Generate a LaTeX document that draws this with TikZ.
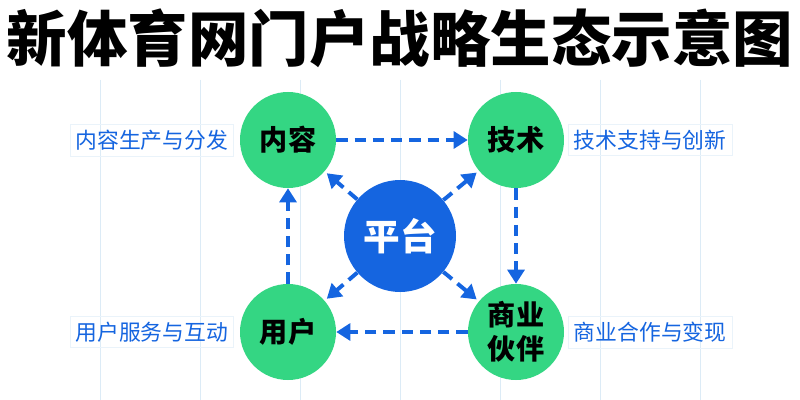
\documentclass[tikz,border=0pt]{standalone}
\usepackage{fontspec}
\setmainfont{Noto Sans CJK SC}
\usetikzlibrary{arrows.meta}
\definecolor{hubblue}{HTML}{1565E0}
\definecolor{nodegreen}{HTML}{34D683}
\definecolor{gridblue}{HTML}{DCEBF6}
\tikzset{
    corner/.style = {circle, fill = nodegreen, minimum size = 96*0.025cm, inner sep = 0pt,
        font = \fontsize{20}{24}\selectfont\bfseries, align = center},
    hub/.style = {circle, fill = hubblue, minimum size = 112*0.025cm, inner sep = 0pt,
        text = white, font = \fontsize{26}{28}\selectfont\bfseries},
    flow/.style = {hubblue, line width = 2.8pt, dash pattern = on 8pt off 5pt,
        -{Triangle[length = 10pt, width = 12pt]}},
    tag/.style = {text = hubblue, font = \fontsize{15.5}{17}\selectfont, draw = gridblue!60, inner sep = 4pt}
}
\begin{document}
\begin{tikzpicture}[x = 0.025cm, y = -0.025cm]
        \fill[white] (0,0) rectangle (800,400);
        \useasboundingbox (0,0) rectangle (800,400);
        % grid
        \foreach\i in {100, 200, ..., 700} {
            \draw[gridblue, line width = 0.6pt] (\i,80) -- (\i,400);
        }

        \node[font = \fontsize{43}{46}\selectfont\bfseries] (title) at (400,38) {新体育网门户战略生态示意图};

        \node[corner] (content) at (288,140) {内容};
        \node[corner] (tech) at (516,140) {技术};
        \node[corner] (user) at (288,332) {用户};
        \node[corner] (biz) at (516,332) {商业\\伙伴};
        \node[hub] (hub) at (400,236) {平台};

        \node[tag, anchor = east] (contenttag) at (234,140) {内容生产与分发};
        \node[tag, anchor = west] (techtag) at (568,140) {技术支持与创新};
        \node[tag, anchor = east] (usertag) at (234,332) {用户服务与互动};
        \node[tag, anchor = west] (biztag) at (568,332) {商业合作与变现};

        % cycle
        \draw[flow] (content) -- (tech);
        \draw[flow] (tech) -- (biz);
        \draw[flow] (biz) -- (user);
        \draw[flow] (user) -- (content);
        % hub spokes
        \foreach\n in {content, tech, user, biz} {
            \draw[flow, shorten >= 2pt] (hub) -- (\n);
        }
    \end{tikzpicture}
\end{document}
